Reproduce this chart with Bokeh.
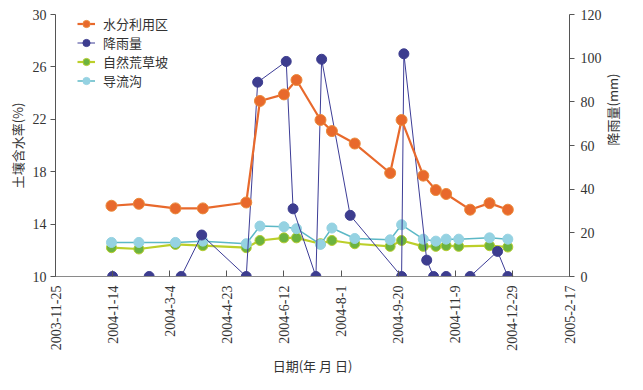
from datetime import datetime
import math
from bokeh.plotting import figure
from bokeh.models import Range1d, LinearAxis, FixedTicker, Legend, LegendItem, ColumnDataSource
from bokeh.embed import file_html
from bokeh.resources import INLINE

# ---------------- data ----------------
tick_labels = ["2003-11-25", "2004-1-14", "2004-3-4", "2004-4-23", "2004-6-12",
               "2004-8-1", "2004-9-20", "2004-11-9", "2004-12-29", "2005-2-17"]

dates_water = ["2004-01-13", "2004-02-06", "2004-03-09", "2004-04-02", "2004-05-10",
               "2004-05-22", "2004-06-12", "2004-06-23", "2004-07-14", "2004-07-24",
               "2004-08-13", "2004-09-13", "2004-09-23", "2004-10-12", "2004-10-23",
               "2004-11-01", "2004-11-22", "2004-12-09", "2004-12-25"]
water_use = [15.4, 15.55, 15.2, 15.2, 15.65, 23.4, 23.9, 25.0, 21.95, 21.1,
             20.15, 17.9, 21.95, 17.7, 16.6, 16.3, 15.1, 15.6, 15.1]

dates_other = ["2004-01-13", "2004-02-06", "2004-03-09", "2004-04-02", "2004-05-10",
               "2004-05-22", "2004-06-12", "2004-06-23", "2004-07-14", "2004-07-24",
               "2004-08-13", "2004-09-13", "2004-09-23", "2004-10-12", "2004-10-23",
               "2004-11-01", "2004-11-12", "2004-12-09", "2004-12-25"]
grass = [12.2, 12.1, 12.45, 12.35, 12.2, 12.75, 12.95, 12.95, 12.5, 12.75,
         12.5, 12.3, 12.75, 12.3, 12.3, 12.35, 12.3, 12.35, 12.25]
ditch = [12.6, 12.6, 12.6, 12.7, 12.5, 13.85, 13.8, 13.65, 12.45, 13.7,
         12.9, 12.8, 13.95, 12.85, 12.7, 12.85, 12.85, 12.95, 12.85]

dates_rain = ["2004-01-14", "2004-02-15", "2004-03-14", "2004-04-01", "2004-05-10",
              "2004-05-20", "2004-06-14", "2004-06-20", "2004-07-10", "2004-07-15",
              "2004-08-09", "2004-09-23", "2004-09-25", "2004-10-15", "2004-10-21",
              "2004-11-01", "2004-11-22", "2004-12-16", "2004-12-25"]
rain = [0, 0, 0, 19, 0, 89, 98.5, 31, 0, 99.5, 28, 0, 102, 7.5, 0, 0, 0, 11.5, 0]

soil_ticks = [10, 14, 18, 22, 26, 30]
rain_ticks = [0, 20, 40, 60, 80, 100, 120]


def to_dt(s):
    return datetime.strptime(s, "%Y-%m-%d")


def ms(s):
    return int((to_dt(s) - datetime(1970, 1, 1)).total_seconds() * 1000)


tick_ms = [ms(t) for t in tick_labels]

# ---------------- figure ----------------
p = figure(frame_width=514, frame_height=262, x_axis_type="datetime",
           x_range=Range1d(tick_ms[0], tick_ms[-1]), y_range=Range1d(10, 30),
           output_backend="svg", toolbar_location=None,
           min_border_left=55, min_border_right=61, min_border_top=14, min_border_bottom=100)
p.outline_line_color = None
p.xgrid.visible = False
p.ygrid.visible = False
p.extra_y_ranges = {"rain": Range1d(0, 120)}

TICK_FONT = "Liberation Serif"
CJK = "Noto Sans CJK SC"

# x axis
xa = p.xaxis[0]
xa.ticker = FixedTicker(ticks=tick_ms)
xa.major_label_overrides = {t: l for t, l in zip(tick_ms, tick_labels)}
xa.major_label_orientation = math.pi / 2
xa.major_tick_in = 6
xa.major_tick_out = 0
xa.minor_tick_line_color = None
xa.major_label_standoff = 9
xa.major_label_text_font = TICK_FONT
xa.major_label_text_font_size = "14px"
xa.major_label_text_color = "#333333"
xa.axis_line_color = "#8a8a8a"
xa.major_tick_line_color = "#555555"
xa.axis_label = "日期(年 月 日)"
xa.axis_label_text_font = CJK
xa.axis_label_text_font_size = "13px"
xa.axis_label_text_font_style = "normal"
xa.axis_label_text_color = "#333333"
xa.axis_label_standoff = 2

# left axis
ya = p.yaxis[0]
ya.ticker = FixedTicker(ticks=soil_ticks)
ya.major_tick_in = 0
ya.major_tick_out = 5
ya.minor_tick_line_color = None
ya.major_label_standoff = 4
ya.major_label_text_font = TICK_FONT
ya.major_label_text_font_size = "14px"
ya.major_label_text_color = "#333333"
ya.axis_line_color = "#555555"
ya.major_tick_line_color = "#555555"
ya.axis_label = "土壤含水率(%)"
ya.axis_label_text_font = CJK
ya.axis_label_text_font_size = "13px"
ya.axis_label_text_font_style = "normal"
ya.axis_label_text_color = "#333333"
ya.axis_label_standoff = 3

# right axis
ra = LinearAxis(y_range_name="rain", ticker=FixedTicker(ticks=rain_ticks))
ra.major_tick_in = 0
ra.major_tick_out = 5
ra.minor_tick_line_color = None
ra.major_label_standoff = 6
ra.major_label_text_font = TICK_FONT
ra.major_label_text_font_size = "14px"
ra.major_label_text_color = "#333333"
ra.axis_line_color = "#555555"
ra.major_tick_line_color = "#555555"
ra.axis_label = "降雨量(mm)"
ra.axis_label_text_font = CJK
ra.axis_label_text_font_size = "13px"
ra.axis_label_text_font_style = "normal"
ra.axis_label_text_color = "#333333"
ra.axis_label_standoff = 8
if "axis_label_orientation" in ra.properties():
    ra.axis_label_orientation = math.pi / 2
p.add_layout(ra, "right")

# ---------------- series ----------------
src_w = ColumnDataSource(dict(x=[to_dt(d) for d in dates_water], y=water_use))
src_g = ColumnDataSource(dict(x=[to_dt(d) for d in dates_other], y=grass))
src_d = ColumnDataSource(dict(x=[to_dt(d) for d in dates_other], y=ditch))
src_r = ColumnDataSource(dict(x=[to_dt(d) for d in dates_rain], y=rain))

lg = p.line("x", "y", source=src_g, line_color="#bccf2a", line_width=2.2)
sg = p.scatter("x", "y", source=src_g, size=10, fill_color="#6cb33e", line_color="#b5cc30", line_width=1)

ld = p.line("x", "y", source=src_d, line_color="#5cb8c6", line_width=1.5)
sd = p.scatter("x", "y", source=src_d, size=10, fill_color="#95d2e2", line_color="#95d2e2")

lr = p.line("x", "y", source=src_r, y_range_name="rain", line_color="#3c3c96", line_width=1)
sr = p.scatter("x", "y", source=src_r, y_range_name="rain", size=10,
               fill_color="#3d3d8f", line_color="#3d3d8f")

lw = p.line("x", "y", source=src_w, line_color="#e8692c", line_width=2.2)
sw = p.scatter("x", "y", source=src_w, size=11, fill_color="#e8692c", line_color="#eb8a3a")

legend = Legend(items=[
    LegendItem(label="水分利用区", renderers=[lw, sw]),
    LegendItem(label="降雨量", renderers=[lr, sr]),
    LegendItem(label="自然荒草坡", renderers=[lg, sg]),
    LegendItem(label="导流沟", renderers=[ld, sd]),
], location=(22, 186))
legend.border_line_color = None
legend.background_fill_alpha = 0
legend.padding = 0
legend.margin = 0
legend.spacing = 0
legend.glyph_width = 18
legend.glyph_height = 19
legend.label_height = 19
legend.label_standoff = 8
legend.label_text_font = CJK
legend.label_text_font_size = "13px"
legend.label_text_color = "#333333"
p.add_layout(legend)

open("out.html", "w").write(file_html(p, INLINE))
